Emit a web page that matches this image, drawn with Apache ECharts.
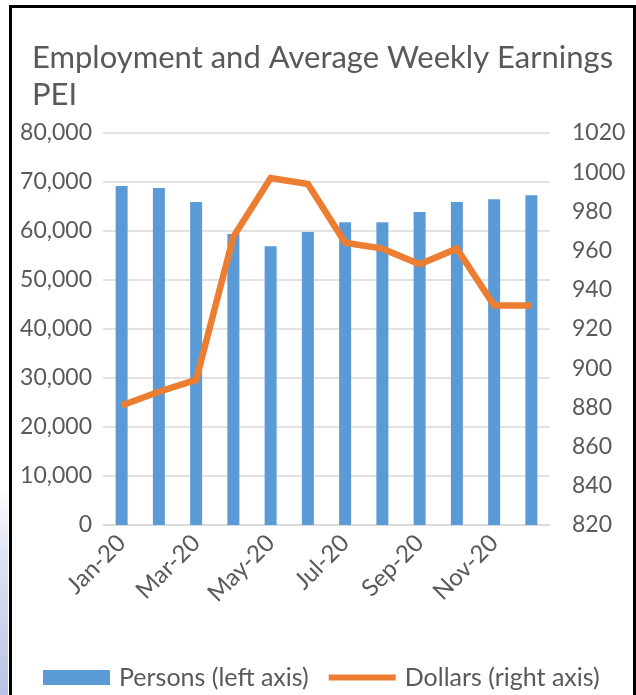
<!DOCTYPE html>
<html>
<head>
<meta charset="utf-8">
<script src="https://cdn.jsdelivr.net/npm/echarts@6/dist/echarts.min.js"></script>
<style>
html,body{margin:0;padding:0;background:#fff;}
#chart{width:636px;height:695px;}
</style>
</head>
<body>
<div id="chart"></div>
<script>
const categories = ['Jan-20','Feb-20','Mar-20','Apr-20','May-20','Jun-20','Jul-20','Aug-20','Sep-20','Oct-20','Nov-20','Dec-20'];
const persons = [69200, 68800, 65900, 59400, 56900, 59800, 61800, 61800, 63900, 65900, 66500, 67300];
const dollars = [881, 888, 894, 967, 997, 994, 964, 961, 953, 961, 932, 932];
const leftTicks = {min: 0, max: 80000, interval: 10000};
const rightTicks = {min: 820, max: 1020, interval: 20};

const FONT = 'Lato';
const TXT = '#595959';
const chart = echarts.init(document.getElementById('chart'), null, {renderer: 'canvas'});
chart.setOption({
  backgroundColor: '#fff',
  animation: false,
  textStyle: {fontFamily: FONT},
  graphic: [
    {type: 'rect', left: 0, top: 0, shape: {width: 8, height: 695},
     style: {fill: new echarts.graphic.LinearGradient(0, 0, 0, 1, [
       {offset: 0, color: '#ffffff'}, {offset: 0.7, color: '#ffffff'}, {offset: 0.8, color: '#dfe3f3'}, {offset: 1, color: '#b8c2e6'}])}, z: -10},
    {type: 'rect', left: 8, top: 4, shape: {width: 624, height: 700},
     style: {fill: 'none', stroke: '#000', lineWidth: 3}, z: 100}
  ],
  title: {
    text: 'Employment and Average Weekly Earnings\nPEI',
    left: 27, top: 34,
    textStyle: {fontFamily: FONT, fontSize: 31, fontWeight: 'normal', color: TXT, lineHeight: 37}
  },
  legend: {
    left: 38, top: 660,
    itemWidth: 67, itemHeight: 15, itemGap: 20,
    textStyle: {fontFamily: FONT, fontSize: 25, color: TXT, padding: [0, 0, 0, 4]},
    data: [
      {name: 'Persons (left axis)', icon: 'rect'},
      {name: 'Dollars (right axis)', icon: 'path://M0,0H67V6H0Z', itemStyle: {color: '#ed7d31'}}
    ]
  },
  grid: {left: 103, right: 86, top: 133, bottom: 170, containLabel: false},
  xAxis: {
    type: 'category', data: categories,
    axisLine: {lineStyle: {color: '#d9d9d9', width: 1.5}},
    axisTick: {show: false},
    axisLabel: {interval: 1, rotate: 45, fontFamily: FONT, fontSize: 24, color: TXT, margin: 14,
      padding: [18, 0, 0, 0]}
  },
  yAxis: [
    {type: 'value', min: leftTicks.min, max: leftTicks.max, interval: leftTicks.interval,
     axisLine: {show: false}, axisTick: {show: false},
     splitLine: {lineStyle: {color: '#d9d9d9', width: 1.5}},
     axisLabel: {fontFamily: FONT, fontSize: 23, color: TXT, margin: 11,
       formatter: v => v.toLocaleString('en-US')}},
    {type: 'value', min: rightTicks.min, max: rightTicks.max, interval: rightTicks.interval,
     axisLine: {show: false}, axisTick: {show: false}, splitLine: {show: false},
     axisLabel: {fontFamily: FONT, fontSize: 23, color: TXT, margin: 22,
       formatter: v => String(v)}}
  ],
  series: [
    {name: 'Persons (left axis)', type: 'bar', data: persons, yAxisIndex: 0,
     barWidth: 12, itemStyle: {color: '#5b9bd5'}},
    {name: 'Dollars (right axis)', type: 'line', data: dollars, yAxisIndex: 1,
     showSymbol: false, symbol: 'none',
     lineStyle: {color: '#ed7d31', width: 6.5, join: 'miter'}, itemStyle: {color: '#ed7d31'}}
  ]
});
</script>
</body>
</html>
